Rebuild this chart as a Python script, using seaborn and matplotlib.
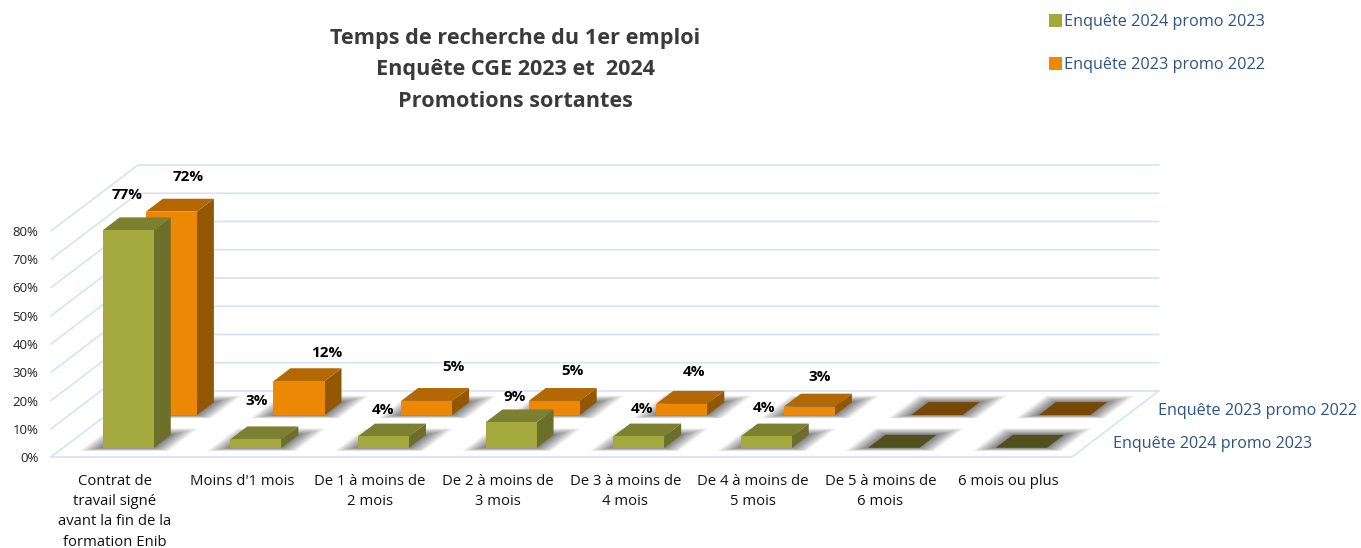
import pandas as pd
import numpy as np
import matplotlib.pyplot as plt
import seaborn as sns
from matplotlib.transforms import Affine2D

# values
categories = ["Contrat de\ntravail signé\navant la fin de la\nformation Enib", "Moins d'1 mois",
              "De 1 à moins de\n2 mois", "De 2 à moins de\n3 mois", "De 3 à moins de\n4 mois",
              "De 4 à moins de\n5 mois", "De 5 à moins de\n6 mois", "6 mois ou plus"]
values_2024 = [77, 3, 4, 9, 4, 4, 0, 0]
values_2023 = [72, 12, 5, 5, 4, 3, 0, 0]
name_2024 = "Enquête 2024 promo 2023"
name_2023 = "Enquête 2023 promo 2022"
grid_ticks = [0, 10, 20, 30, 40, 50, 60, 70, 80]
title_text = "Temps de recherche du 1er emploi\nEnquête CGE 2023 et  2024\nPromotions sortantes"

# label offsets from the rear top of each bar, in pixels (the chart has them hand placed)
label_dy_2024 = [22, 25, 14, 12, 15, 16, 0, 0]
label_dx_2024 = [-1, 1, 0, 4, 3, -2, 0, 0]
label_dy_2023 = [22, 15, 21, 17, 19, 17, 0, 0]
label_dx_2023 = [17, 28, 27, 18, 12, 10, 0, 0]

W, H = 1361, 548
PX_CAT = 127.6
PX_PCT = 2.825
# oblique projection: one unit of depth in category / percent units
DEPTH_X = 87 / PX_CAT
DEPTH_Y = 66 / PX_PCT
BAR_W = 0.4
BAR_D = 0.195
BAR_SHIFT = 0.01

GRID = "#D6E3F3"
BLUE = "#2E5487"
colors = {name_2024: "#A4A93D", name_2023: "#EC8804"}
tops = {name_2024: "#7D8031", name_2023: "#B46803"}
sides = {name_2024: "#6C6F2A", name_2023: "#935702"}
floors = {name_2024: "#50521D", name_2023: "#784706"}
depths = {name_2024: 0.14, name_2023: 0.636}

sns.set_theme(style="white")
plt.rcParams["font.family"] = ["Open Sans", "DejaVu Sans"]

df = pd.DataFrame({
    "categorie": categories * 2,
    "valeur": values_2024 + values_2023,
    "serie": [name_2024] * 8 + [name_2023] * 8,
})

fig = plt.figure(figsize=(W / 100, H / 100), dpi=100)
ax = fig.add_axes([51 / W, 1 - 457 / H, (1159 - 51) / W, (457 - 165) / H])

sns.barplot(data=df, x="categorie", y="valeur", hue="serie", hue_order=[name_2024, name_2023],
            palette=colors, dodge=False, width=BAR_W, saturation=1, errorbar=None, linewidth=0, ax=ax)

ax.set_xlim(-0.5, -0.5 + (1159 - 51) / PX_CAT)
ax.set_ylim(0, (457 - 165) / PX_PCT)
ax.set_xlabel("")
ax.set_ylabel("")
ax.set_yticks(grid_ticks)
ax.set_yticklabels([f"{t}%" for t in grid_ticks], fontsize=9.5, color="#222222")
ax.tick_params(axis="y", length=0, pad=9)
ax.tick_params(axis="x", length=0, pad=12, labelsize=10.7, labelcolor="#111111")
for lab in ax.get_xticklabels():
    lab.set_linespacing(1.48)
sns.despine(ax=ax, left=True, bottom=True)
ax.patch.set_alpha(0)

x_left = -0.5
x_right = 7.5


def project(x, depth, v):
    return x + depth * DEPTH_X, v + depth * DEPTH_Y


# walls and floor
for t in grid_ticks:
    xa, ya = project(x_left, 0, t)
    xb, yb = project(x_left, 1, t)
    xc, yc = project(x_right, 1, t)
    ax.plot([xa, xb, xc], [ya, yb, yc], color=GRID, lw=1.2, zorder=1, clip_on=False)
xa, ya = project(x_left, 0, 0)
xb, yb = project(x_right, 0, 0)
xc, yc = project(x_right, 1, 0)
ax.plot([xa, xb, xc], [ya, yb, yc], color=GRID, lw=1.2, zorder=1, clip_on=False)


def face(points, color, z, **kw):
    xs, ys = zip(*[project(*p) for p in points])
    ax.fill(xs, ys, color=color, zorder=z, clip_on=False, **kw)


def draw_series(container, name, base_z):
    d0 = depths[name]
    d1 = d0 + BAR_D
    for bar in container:
        x0 = bar.get_x() + BAR_SHIFT
        x1 = x0 + bar.get_width()
        h = bar.get_height()
        # soft shadow on the floor, stacked translucent layers
        for k in np.linspace(1, 0, 28) ** 1.3:
            px = 0.15 * k
            pd_ = 0.1 * k
            face([(x0 - px, d0 - pd_ * 0.5, 0), (x1 + px, d0 - pd_ * 0.5, 0),
                  (x1 + px, d1 + pd_, 0), (x0 - px, d1 + pd_, 0)],
                 "#404040", base_z, alpha=0.035, lw=0)
        if h == 0:
            face([(x0, d0, 0), (x1, d0, 0), (x1, d1, 0), (x0, d1, 0)], floors[name], base_z + 1, lw=0)
            continue
        face([(x1, d0, 0), (x1, d1, 0), (x1, d1, h), (x1, d0, h)], sides[name], base_z + 1, lw=0)
        face([(x0, d0, h), (x1, d0, h), (x1, d1, h), (x0, d1, h)], tops[name], base_z + 1, lw=0)
        # the front face is seaborn's own bar, pushed back to its depth
        bar.set_transform(Affine2D().translate(BAR_SHIFT + d0 * DEPTH_X, d0 * DEPTH_Y) + ax.transData)
        bar.set_zorder(base_z + 2)
        bar.set_clip_on(False)


def draw_labels(values, name, dxs, dys, z):
    for i, (v, dx, dy) in enumerate(zip(values, dxs, dys)):
        if v == 0:
            continue
        x, y = project(i + BAR_SHIFT, depths[name], v)
        y += BAR_D * DEPTH_Y
        ax.annotate(f"{v}%", (x, y), xytext=(dx * 0.72, dy * 0.72), textcoords="offset points",
                    ha="center", va="center", fontsize=11, fontweight="bold", color="black",
                    zorder=z, annotation_clip=False)


draw_series(ax.containers[1], name_2023, 3)
draw_series(ax.containers[0], name_2024, 6)
draw_labels(values_2023, name_2023, label_dx_2023, label_dy_2023, 10)
draw_labels(values_2024, name_2024, label_dx_2024, label_dy_2024, 10)

# depth axis labels
for name, off in ((name_2023, 22), (name_2024, 21)):
    x, y = project(x_right, depths[name] + BAR_D / 2, 0)
    ax.annotate(name, (x, y), xytext=(off * 0.72, -2), textcoords="offset points", ha="left",
                va="center", fontsize=11.6, color=BLUE, annotation_clip=False)

sns.move_legend(ax, "upper left", bbox_to_anchor=(1034 / W, 1 + 1 / H), bbox_transform=fig.transFigure,
                title=None, frameon=False, fontsize=11.7, labelspacing=1.68, handlelength=0.85,
                handleheight=0.85, handletextpad=0.1, labelcolor=BLUE)

fig.text(515 / W, 1 - 70 / H, title_text, ha="center", va="center", fontsize=15.6, fontweight="bold",
         color="#3A3A3A", linespacing=1.65)

fig.savefig("out.png", dpi=100)
